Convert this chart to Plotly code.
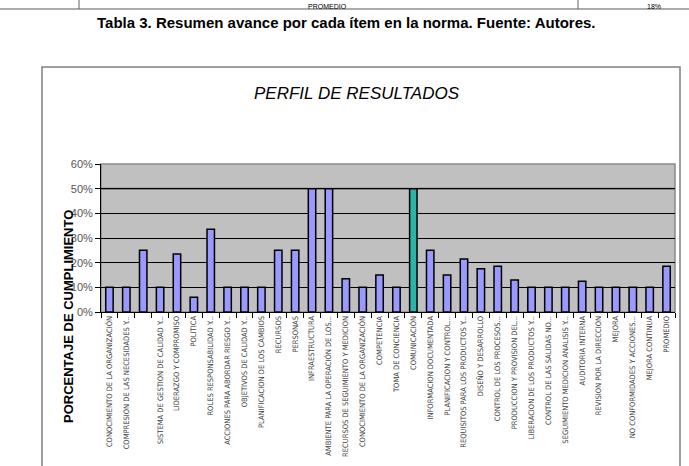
import plotly.graph_objects as go

categories = [
    "CONOCIMIENTO DE LA ORGANIZACIÓN",
    "COMPRESION DE LAS NECESIDADES Y...",
    "",
    "SISTEMA DE GESTION DE CALIDAD Y...",
    "LIDERAZGO Y COMPROMISO",
    "POLITICA",
    "ROLES RESPONSABILIDAD Y...",
    "ACCIONES PARA ABORDAR RIESGO Y...",
    "OBJETIVOS DE CALIDAD Y...",
    "PLANIFICACION DE LOS CAMBIOS",
    "RECURSOS",
    "PERSONAS",
    "INFRAESTRUCTURA",
    "AMBIENTE PARA LA OPERACIÓN DE LOS...",
    "RECURSOS DE SEGUIMIENTO Y MEDICION",
    "CONOCIMIENTO DE LA ORGANIZACIÓN",
    "COMPETENCIA",
    "TOMA DE CONCIENCIA",
    "COMUNICACIÓN",
    "INFORMACION DOCUMENTADA",
    "PLANIFICACION Y CONTROL...",
    "REQUISITOS PARA LOS PRODUCTOS Y...",
    "DISEÑO Y DESARROLLO",
    "CONTROL DE LOS PROCESOS...",
    "PRODUCCION Y PROVISION DEL...",
    "LIBERACION DE LOS PRODUCTOS Y...",
    "CONTROL DE LAS SALIDAS NO...",
    "SEGUIMIENTO MEDICION ANALISIS Y...",
    "AUDITORIA INTERNA",
    "REVISION POR LA DIRECCION",
    "MEJORA",
    "NO CONFORMIDADES Y ACCIONES...",
    "MEJORA CONTINUA",
    "PROMEDIO",
]

values = [10, 10, 25, 10, 23.5, 6, 33.5, 10, 10, 10,
          25, 25, 50, 50, 13.5, 10, 15, 10, 50, 25,
          15, 21.5, 17.5, 18.5, 13, 10, 10, 10, 12.5, 10,
          10, 10, 10, 18.5]

highlight = "COMUNICACIÓN"
y_ticks = [0, 10, 20, 30, 40, 50, 60]

W, H = 689, 466
ML, MR, MT, MB = 101, 14, 164, 154
PW = W - ML - MR
PH = H - MT - MB


def px(x):
    return (x - ML) / PW


def py(y):
    return (H - MB - y) / PH


idx = list(range(len(categories)))
colors = ["#2DB3AA" if c == highlight else "#9999FF" for c in categories]

fig = go.Figure(go.Bar(
    x=[str(i) for i in idx],
    y=values,
    marker=dict(color=colors, line=dict(color="black", width=1.5)),
))

shapes = [
    # outer chart frame
    dict(type="rect", xref="paper", yref="paper",
         x0=px(42), x1=px(680), y0=py(475), y1=py(67),
         line=dict(color="#808080", width=1.5), layer="below"),
    # table fragment at the top
    dict(type="line", xref="paper", yref="paper",
         x0=px(0), x1=px(689), y0=py(9), y1=py(9),
         line=dict(color="#909090", width=1.5)),
    dict(type="line", xref="paper", yref="paper",
         x0=px(79), x1=px(79), y0=py(0), y1=py(9),
         line=dict(color="#606060", width=1)),
    dict(type="line", xref="paper", yref="paper",
         x0=px(578), x1=px(578), y0=py(0), y1=py(9),
         line=dict(color="#606060", width=1)),
    # plot area border
    dict(type="rect", xref="paper", yref="paper",
         x0=0, x1=1, y0=0, y1=1,
         line=dict(color="#8a8a8a", width=1.5), layer="below"),
    # emphasised 50% line
    dict(type="line", xref="paper", yref="y",
         x0=0, x1=1, y0=50, y1=50,
         line=dict(color="#6e6e6e", width=2), layer="below"),
]

annotations = [
    dict(text="<b>Tabla 3. Resumen avance por cada ítem en la norma. Fuente: Autores.</b>",
         xref="paper", yref="paper", x=px(346), y=py(22), showarrow=False,
         xanchor="center", yanchor="middle",
         font=dict(family="Liberation Sans, Arial, sans-serif", size=15, color="black")),
    dict(text="PROMEDIO", xref="paper", yref="paper", x=px(327), y=py(0.5),
         showarrow=False, xanchor="center", yanchor="top",
         font=dict(family="Liberation Sans, Arial, sans-serif", size=7, color="black")),
    dict(text="18%", xref="paper", yref="paper", x=px(654), y=py(0.5),
         showarrow=False, xanchor="center", yanchor="top",
         font=dict(family="Liberation Sans, Arial, sans-serif", size=7, color="black")),
    dict(text="<i>PERFIL DE RESULTADOS</i>", xref="paper", yref="paper",
         x=px(357), y=py(94), showarrow=False, xanchor="center", yanchor="middle",
         font=dict(family="Liberation Sans, Arial, sans-serif", size=17, color="black")),
    dict(text="<b>PORCENTAJE DE CUMPLIMIENTO</b>", xref="paper", yref="paper",
         x=px(68), y=py(317), showarrow=False, textangle=-90,
         xanchor="center", yanchor="middle",
         font=dict(family="Liberation Sans, Arial, sans-serif", size=13, color="black")),
]

fig.update_layout(
    width=W, height=H, autosize=False,
    margin=dict(l=ML, r=MR, t=MT, b=MB, pad=0),
    paper_bgcolor="white",
    plot_bgcolor="#C0C0C0",
    showlegend=False,
    bargap=0.56,
    shapes=shapes,
    annotations=annotations,
    xaxis=dict(
        type="category",
        tickmode="array",
        tickvals=[str(i) for i in idx],
        ticktext=categories,
        tickangle=-90,
        tickson="boundaries",
        ticks="outside", ticklen=5, tickcolor="black",
        showline=True, linecolor="black", linewidth=1,
        showgrid=False, automargin=False,
        tickfont=dict(family="Liberation Sans Narrow, Arial Narrow, DejaVu Sans Condensed, Liberation Sans, sans-serif",
                      size=7.5, color="#404040"),
    ),
    yaxis=dict(
        range=[0, 60],
        tickmode="array", tickvals=y_ticks,
        ticktext=[f"{v}%" for v in y_ticks],
        ticks="outside", ticklen=5, tickcolor="black",
        showline=True, linecolor="black", linewidth=1,
        showgrid=True, gridcolor="black", gridwidth=1,
        zeroline=False, automargin=False,
        tickfont=dict(family="Liberation Sans, Arial, sans-serif", size=11, color="#555555"),
    ),
)

fig.write_html("out.html")
